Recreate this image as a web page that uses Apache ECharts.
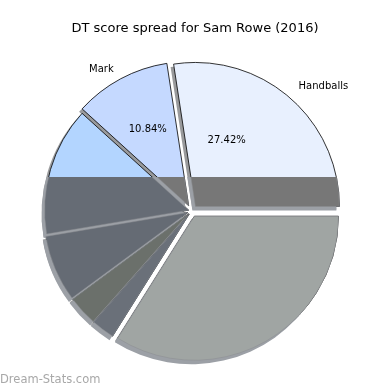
<!DOCTYPE html>
<html><head><meta charset="utf-8">
<script src="https://cdn.jsdelivr.net/npm/echarts@6/dist/echarts.min.js"></script>
<style>html,body{margin:0;padding:0;background:#fff}#c{width:390px;height:390px}</style>
</head><body><div id="c"></div>
<script>
// ---- data ----
const categories = ['Handballs', 'Mark', 'Kicks', 'Tackles', 'Hitouts', 'Frees', 'Other'];
const showLabel = [true, true, false, false, false, false, false];
const values = [27.42, 10.84, 14.39, 7.47, 3.36, 2.6, 33.92];
const title = 'DT score spread for Sam Rowe (2016)';
const watermark = 'Dream-Stats.com';

// ---- styling ----
const topColors = ['#e8f0fe', '#c5d9ff', '#b3d5ff', '#a9cdf9', '#a0c4f2', '#98bdec', '#dfe3ea'];
const lowColors = ['#777777', '#777777', '#666c75', '#656b74', '#6b706b', '#6a7079', '#a0a5a3'];
const explode = [6, 6, 3, 4, 4, 4, 6];
const pctShift = [[-25, 0], [0, 0], [0, 0], [0, 0], [0, 0], [0, 0], [0, 0]];
const labelShift = [[0, 0], [0, 3], [0, 0], [0, 0], [0, 0], [0, 0], [0, 0]];
const C = [191.5, 211], R = 144;
const splitY = 177;

const total = values.reduce((a, b) => a + b, 0);
function pieSeries(k, center, colorArr, opts) {
  return {
    type: 'pie', center: center, radius: [0, R], startAngle: 0, clockwise: false,
    selectedMode: 'multiple', selectedOffset: explode[k], silent: true,
    avoidLabelOverlap: false, label: {show: false}, labelLine: {show: false},
    emphasis: {disabled: true}, zlevel: opts.zlevel, z: opts.z,
    data: values.map((v, i) => ({
      value: v, name: categories[i], selected: i === k,
      itemStyle: i === k
        ? {color: colorArr[i], borderColor: opts.border, borderWidth: opts.bw}
        : {color: 'rgba(0,0,0,0)', borderWidth: 0}
    }))
  };
}
const series = [];
values.forEach((v, k) => {
  series.push(pieSeries(k, [C[0] - 3, C[1] + 3], values.map(() => '#999a9c'), {zlevel: 0, z: 1, border: 'rgba(0,0,0,0)', bw: 0}));
});
values.forEach((v, k) => {
  series.push(pieSeries(k, C, topColors, {zlevel: 0, z: 2, border: '#000', bw: 0.8}));
});
values.forEach((v, k) => {
  series.push(pieSeries(k, [C[0] - 3, C[1] + 4], values.map(() => '#9ca0a6'), {zlevel: 1, z: 1, border: 'rgba(0,0,0,0)', bw: 0}));
});
values.forEach((v, k) => {
  series.push(pieSeries(k, C, lowColors, {zlevel: 1, z: 2, border: '#8a8d90', bw: 0.5}));
});

// labels
const graphics = [
  {type: 'rect', zlevel: 1, z: 100, silent: true, shape: {x: 0, y: 0, width: 390, height: splitY},
   style: {fill: '#000', blend: 'destination-out'}},
  {type: 'text', zlevel: 2, x: 0, y: 380, silent: true,
   style: {text: watermark, fill: '#a8a8a8', font: '11.5px "DejaVu Sans"', textVerticalAlign: 'middle', textAlign: 'left'}}
];
let acc = 0;
values.forEach((v, i) => {
  const a0 = acc / total * 2 * Math.PI; acc += v;
  const a1 = acc / total * 2 * Math.PI;
  const mid = (a0 + a1) / 2, cs = Math.cos(mid), sn = Math.sin(mid);
  const tx = C[0] + explode[i] * cs, ty = C[1] - explode[i] * sn;
  if (!showLabel[i]) return;
  graphics.push({type: 'text', zlevel: 2, silent: true,
    x: tx + 1.1 * R * cs + labelShift[i][0], y: ty - 1.1 * R * sn + labelShift[i][1],
    style: {text: categories[i], fill: '#000', font: '10px "DejaVu Sans"',
      textAlign: cs >= 0 ? 'left' : 'right', textVerticalAlign: 'middle'}});
  graphics.push({type: 'text', zlevel: 2, silent: true,
    x: tx + 0.6 * R * cs + pctShift[i][0], y: ty - 0.6 * R * sn + pctShift[i][1],
    style: {text: (v / total * 100).toFixed(2) + '%', fill: '#000', font: '10px "DejaVu Sans"',
      textAlign: 'center', textVerticalAlign: 'middle'}});
});

const chart = echarts.init(document.getElementById('c'), null, {renderer: 'canvas'});
chart.setOption({
  animation: false,
  backgroundColor: '#ffffff',
  title: {text: title, left: 'center', top: 17,
    textStyle: {fontSize: 13, fontWeight: 'normal', color: '#000', fontFamily: 'DejaVu Sans'}},
  series: series,
  graphic: graphics
});
</script></body></html>
